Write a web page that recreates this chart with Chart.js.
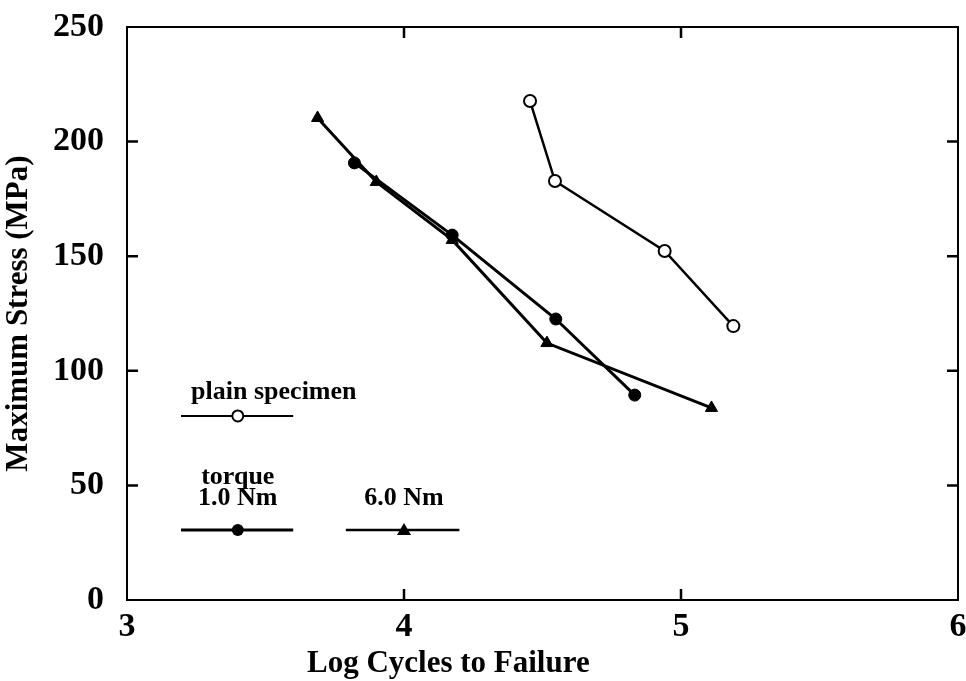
<!DOCTYPE html>
<html>
<head>
<meta charset="utf-8">
<script src="https://cdn.jsdelivr.net/npm/chart.js@4"></script>
<style>
  html, body { margin: 0; padding: 0; background: #fff; }
  #wrap { width: 966px; height: 681px; }
</style>
</head>
<body>
<div id="wrap"><canvas id="myChart" width="966" height="681"></canvas></div>
<script>
// ==== data (x = log cycles, y = MPa)
const plainX = [4.455, 4.545, 4.941, 5.189];
const plainY = [217.7, 182.8, 152.3, 119.5];

const torque1X = [3.821, 4.174, 4.548, 4.833];
const torque1Y = [190.7, 159.2, 122.6, 89.4];

const torque6X = [3.688, 3.900, 4.174, 4.516, 5.110];
const torque6Y = [210.3, 182.4, 157.1, 112.1, 83.8];

const xTicks = [3, 4, 5, 6];
const yTicks = [0, 50, 100, 150, 200, 250];

const FONT = "'Liberation Serif', 'Times New Roman', serif";

function pts(xs, ys) {
  return xs.map((x, i) => ({ x: x, y: ys[i] }));
}

// frame + inward ticks + x title (sits left of centre in the original)
const framePlugin = {
  id: 'frame',
  afterDraw(chart) {
    const ctx = chart.ctx;
    const a = chart.chartArea;
    const xs = chart.scales.x, ys = chart.scales.y;
    ctx.save();
    ctx.strokeStyle = '#000';
    ctx.lineWidth = 2;
    ctx.strokeRect(a.left, a.top, a.right - a.left, a.bottom - a.top);
    ctx.lineWidth = 2.5;
    ctx.beginPath();
    xTicks.slice(1, -1).forEach(v => {
      const p = xs.getPixelForValue(v);
      ctx.moveTo(p, a.bottom); ctx.lineTo(p, a.bottom - 11);
      ctx.moveTo(p, a.top); ctx.lineTo(p, a.top + 11);
    });
    yTicks.slice(1, -1).forEach(v => {
      const p = ys.getPixelForValue(v);
      ctx.moveTo(a.left, p); ctx.lineTo(a.left + 11, p);
      ctx.moveTo(a.right, p); ctx.lineTo(a.right - 11, p);
    });
    ctx.stroke();

    ctx.fillStyle = '#000';
    ctx.font = 'bold 31px ' + FONT;
    ctx.textAlign = 'center';
    ctx.textBaseline = 'middle';
    ctx.fillText('Log Cycles to Failure', xs.getPixelForValue(4.16), 664);
    ctx.restore();
  }
};

// key drawn inside the plot, placed in data units
const keyPlugin = {
  id: 'key',
  afterDatasetsDraw(chart) {
    const ctx = chart.ctx;
    const xs = chart.scales.x, ys = chart.scales.y;
    const X = v => xs.getPixelForValue(v);
    const Y = v => ys.getPixelForValue(v);
    ctx.save();
    ctx.fillStyle = '#000';
    ctx.strokeStyle = '#000';
    ctx.font = 'bold 26px ' + FONT;
    ctx.textAlign = 'center';
    ctx.textBaseline = 'middle';
    ctx.fillText('plain specimen', X(3.53), Y(90.5));
    ctx.fillText('torque', X(3.40), Y(53.5));
    ctx.fillText('1.0 Nm', X(3.40), Y(44.5));
    ctx.fillText('6.0 Nm', X(4.00), Y(44.5));

    function seg(x0, x1, y, w) {
      ctx.lineWidth = w;
      ctx.beginPath();
      ctx.moveTo(X(x0), Y(y)); ctx.lineTo(X(x1), Y(y));
      ctx.stroke();
    }
    seg(3.195, 3.60, 80.3, 2);
    seg(3.195, 3.60, 30.5, 3);
    seg(3.79, 4.20, 30.5, 2.5);

    // open circle
    ctx.lineWidth = 2;
    ctx.fillStyle = '#fff';
    ctx.beginPath(); ctx.arc(X(3.40), Y(80.3), 5.5, 0, Math.PI * 2); ctx.fill(); ctx.stroke();
    // filled circle
    ctx.fillStyle = '#000';
    ctx.beginPath(); ctx.arc(X(3.40), Y(30.5), 6, 0, Math.PI * 2); ctx.fill();
    // triangle
    const tx = X(4.0), ty = Y(30.5);
    ctx.beginPath();
    ctx.moveTo(tx, ty - 7); ctx.lineTo(tx + 7, ty + 5); ctx.lineTo(tx - 7, ty + 5);
    ctx.closePath(); ctx.fill();
    ctx.restore();
  }
};

const data = {
  datasets: [
    {
      label: 'plain specimen',
      data: pts(plainX, plainY),
      showLine: true,
      borderColor: '#000',
      borderWidth: 2.5,
      pointStyle: 'circle',
      pointRadius: 6,
      pointBorderWidth: 2,
      pointBackgroundColor: '#fff',
      pointBorderColor: '#000',
      clip: false
    },
    {
      label: 'torque 1.0 Nm',
      data: pts(torque1X, torque1Y),
      showLine: true,
      borderColor: '#000',
      borderWidth: 3,
      pointStyle: 'circle',
      pointRadius: 6,
      pointBorderWidth: 1,
      pointBackgroundColor: '#000',
      pointBorderColor: '#000',
      clip: false
    },
    {
      label: '6.0 Nm',
      data: pts(torque6X, torque6Y),
      showLine: true,
      borderColor: '#000',
      borderWidth: 3,
      pointStyle: 'triangle',
      pointRadius: 7,
      pointBorderWidth: 1,
      pointBackgroundColor: '#000',
      pointBorderColor: '#000',
      clip: false
    }
  ]
};

const config = {
  type: 'scatter',
  data,
  options: {
    responsive: false,
    animation: false,
    layout: { padding: { top: 27, right: 6, left: 0, bottom: 0 } },
    plugins: {
      legend: { display: false },
      tooltip: { enabled: false }
    },
    scales: {
      x: {
        type: 'linear',
        min: 3, max: 6,
        afterBuildTicks: s => { s.ticks = xTicks.map(v => ({ value: v })); },
        afterFit: s => {
          s.height = 81;
          s.paddingLeft = 0; s.paddingRight = 0;
        },
        grid: { display: false },
        border: { display: false },
        ticks: {
          color: '#000',
          padding: 2,
          font: { family: FONT, size: 34, weight: 'bold', lineHeight: 1 }
        }
      },
      y: {
        type: 'linear',
        min: 0, max: 250,
        afterBuildTicks: s => { s.ticks = yTicks.map(v => ({ value: v })); },
        afterFit: s => {
          s.width = 127;
          s.paddingTop = 0; s.paddingBottom = 0;
        },
        grid: { display: false },
        border: { display: false },
        ticks: {
          color: '#000',
          padding: 15,
          font: { family: FONT, size: 34, weight: 'bold' }
        },
        title: {
          display: true,
          text: 'Maximum Stress (MPa)',
          color: '#000',
          padding: { top: 0, bottom: 0 },
          font: { family: FONT, size: 31, weight: 'bold' }
        }
      }
    }
  },
  plugins: [framePlugin, keyPlugin]
};

const myChart = new Chart(document.getElementById('myChart'), config);
</script>
</body>
</html>
